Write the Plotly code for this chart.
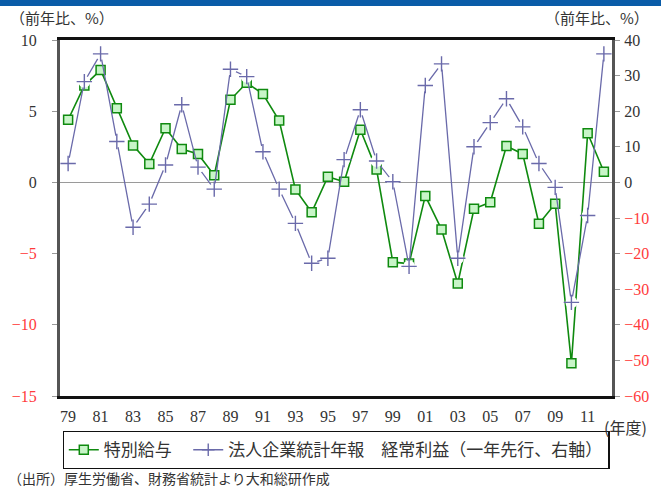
import plotly.graph_objects as go

years = list(range(1979, 2013))
bonus = [4.4, 6.8, 7.9, 5.2, 2.6, 1.3, 3.8, 2.35, 2.0, 0.5, 5.8, 7.0, 6.2, 4.35,
         -0.5, -2.1, 0.4, 0.05, 3.7, 0.9, -5.6, -5.7, -0.95, -3.3, -7.1, -1.85,
         -1.4, 2.55, 2.0, -2.9, -1.5, -12.7, 3.45, 0.75]
profit = [5.3, 28.3, 36.1, 11.5, -12.6, -6.1, 4.9, 21.8, 4.3, -1.9, 31.8, 29.7,
          8.6, -1.9, -11.5, -22.7, -21.3, 6.4, 20.4, 6.0, 0.2, -23.6, 27.2, 33.3,
          -21.3, 10.0, 16.8, 23.5, 15.6, 5.3, -1.4, -33.7, -9.3, 36.1]

left_ticks = [10, 5, 0, -5, -10, -15]
right_ticks = [40, 30, 20, 10, 0, -10, -20, -30, -40, -50, -60]
x_ticks = list(range(1979, 2013, 2))
x_labels = [f"{y % 100:02d}" for y in x_ticks]

FONT = "Liberation Serif"
CJK = "Noto Sans CJK JP"
GREEN = "#0f8a0f"
BLUE = "#6a6aaa"
RED = "#ff3b3b"


def fmt(v):
    if v < 0:
        return f"<span style='color:{RED}'>\u2212{abs(v)}</span>"
    return str(v)


fig = go.Figure()
fig.add_trace(go.Scatter(
    x=years, y=bonus, mode="lines+markers", name="特別給与\u00a0\u00a0\u00a0",
    line=dict(color=GREEN, width=1.6),
    marker=dict(symbol="square", size=9, color="#c8f5c8",
                line=dict(color=GREEN, width=1.5)),
    yaxis="y"))
fig.add_trace(go.Scatter(
    x=years, y=profit, mode="lines", showlegend=False,
    line=dict(color=BLUE, width=1.3), yaxis="y2", hoverinfo="skip"))
fig.add_trace(go.Scatter(
    x=years, y=profit, mode="markers", showlegend=False,
    marker=dict(symbol="circle", size=12, color="white", line=dict(width=0)),
    yaxis="y2", hoverinfo="skip"))
fig.add_trace(go.Scatter(
    x=years, y=profit, mode="markers", showlegend=False,
    marker=dict(symbol="cross-thin", size=11, color=BLUE,
                line=dict(color=BLUE, width=1.4)),
    yaxis="y2"))
fig.add_trace(go.Scatter(
    x=[None], y=[None], mode="lines+markers",
    name="法人企業統計年報　経常利益（一年先行、右軸）",
    line=dict(color=BLUE, width=1.3),
    marker=dict(symbol="cross-thin", size=9, color=BLUE,
                line=dict(color=BLUE, width=1.4)),
    yaxis="y2"))

fig.update_layout(
    width=661, height=488,
    margin=dict(l=57, r=41, t=40, b=92),
    paper_bgcolor="white", plot_bgcolor="white",
    font=dict(family=FONT, size=15, color="#333333"),
    showlegend=True,
    legend=dict(orientation="h", x=0.5, xanchor="center", y=-0.098, yanchor="top",
                bordercolor="#111111", borderwidth=1.3,
                font=dict(family=CJK, size=17, color="#333333"),
                itemwidth=30),
    xaxis=dict(range=[1978.5, 2012.5], tickmode="array", tickvals=x_ticks,
               ticktext=x_labels, showgrid=False, zeroline=False,
               showline=True, linecolor="#111111", linewidth=3, mirror=True,
               ticks="", ticklabelstandoff=4,
               tickfont=dict(family=FONT, size=16, color="#333333")),
    yaxis=dict(range=[-15, 10], tickmode="array", tickvals=left_ticks,
               ticktext=[fmt(v) for v in left_ticks], showgrid=False,
               zeroline=True, zerolinecolor="#9a9a9a", zerolinewidth=1.3,
               showline=True, linecolor="#555555", linewidth=3,
               ticks="outside", ticklen=5, tickcolor="#999999",
               ticklabelstandoff=12,
               tickfont=dict(family=FONT, size=16, color="#333333")),
    yaxis2=dict(range=[-60, 40], tickmode="array", tickvals=right_ticks,
                ticktext=[fmt(v) for v in right_ticks], overlaying="y",
                side="right", showgrid=False, zeroline=False,
                showline=True, linecolor="#555555", linewidth=3,
                ticks="outside", ticklen=5, tickcolor="#999999",
                ticklabelstandoff=1,
                tickfont=dict(family=FONT, size=16, color="#333333")),
)

fig.add_shape(type="rect", xref="paper", yref="paper", x0=-0.2, x1=1.2,
              y0=(396 - 6) / 356, y1=1.25, fillcolor="#0a5ca8",
              line=dict(width=0), layer="above")

ann_font = dict(family=CJK, size=15, color="#333333")
fig.add_annotation(text="（前年比、%）", xref="paper", yref="paper",
                   x=(4 - 57) / 563, y=(396 - 18) / 356, xanchor="left",
                   yanchor="middle", showarrow=False, font=ann_font)
fig.add_annotation(text="（前年比、%）", xref="paper", yref="paper",
                   x=(660 - 57) / 563, y=(396 - 18) / 356, xanchor="right",
                   yanchor="middle", showarrow=False, font=ann_font)
fig.add_annotation(text="(年度)", xref="paper", yref="paper",
                   x=(658 - 57) / 563, y=(396 - 427) / 356, xanchor="right",
                   yanchor="middle", showarrow=False,
                   font=dict(family=CJK, size=16, color="#333333"))
fig.add_annotation(text="（出所）厚生労働省、財務省統計より大和総研作成",
                   xref="paper", yref="paper",
                   x=(2 - 57) / 563, y=(396 - 478) / 356, xanchor="left",
                   yanchor="middle", showarrow=False,
                   font=dict(family=CJK, size=14, color="#333333"))

fig.write_html("out.html",
               config={"displayModeBar": False},
               post_script="document.body.style.margin='0';"
                           "document.body.style.padding='0';"
                           "document.documentElement.style.overflow='hidden';")
